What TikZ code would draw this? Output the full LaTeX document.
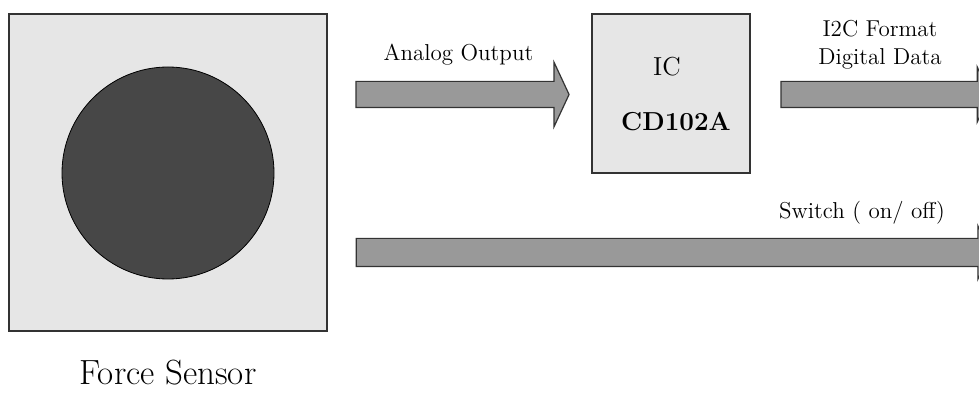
\documentclass[tikz,border=0pt]{standalone}
\usepackage{xcolor}
\usepackage{tikz}
\usetikzlibrary{shapes.arrows}
\usetikzlibrary{positioning}

\definecolor{panelgray}{HTML}{E6E6E6}
\definecolor{padgray}{HTML}{474747}
\definecolor{flowgray}{HTML}{999999}
\definecolor{edgegray}{HTML}{333333}

\begin{document}
\begin{tikzpicture}[x=0.5pt, y=-0.5pt,
  panel/.style={draw=edgegray, line width=0.6pt, fill=panelgray, rectangle, inner sep=0pt},
  flow/.style={draw=edgegray, line width=0.6pt, fill=flowgray, single arrow, inner xsep=0pt,
    inner ysep=6.25pt, single arrow head extend=9.5pt, single arrow tip angle=130},
  lbl/.style={font=\fontsize{11.5}{14}\selectfont, inner sep=0pt, align=center}]

\clip (0,0) rectangle (979,394);
\fill[white] (0,0) rectangle (979,394);

\node[panel, minimum width=159pt, minimum height=158.5pt] (sensor) at (168,172.5) {};
\node[draw=black, fill=padgray, circle, minimum size=106pt, inner sep=0pt] (pad) at (168,173) {};
\node[font=\fontsize{17.5}{20}\selectfont, inner sep=0pt] (sensorname) at (168,373) {Force Sensor};

\node[panel, minimum width=79pt, minimum height=79.5pt] (ic) at (671,93.5) {};
\node[font=\fontsize{13}{15}\selectfont, inner sep=0pt] (icname) at (667,67) {IC};
\node[font=\fontsize{13}{15}\selectfont\bfseries, inner sep=0pt] (icpart) at (676,122) {CD102A};

\node[flow, minimum height=106.5pt] (analog) at (459.5,94.5) {};
\node[flow, minimum height=104.5pt, single arrow head extend=7.25pt] (digital) at (882.5,94.5) {};
\node[flow, minimum height=317pt, inner ysep=6.75pt, single arrow head extend=6.25pt] (switch) at (670,252.5) {};

\node[lbl] (analoglbl) at (458.5,55) {Analog Output};
\node[lbl] (digitallbl) at (880,45) {I2C Format\\Digital Data};
\node[lbl] (switchlbl) at (862,213) {Switch ( on/ off)};

\end{tikzpicture}
\end{document}
